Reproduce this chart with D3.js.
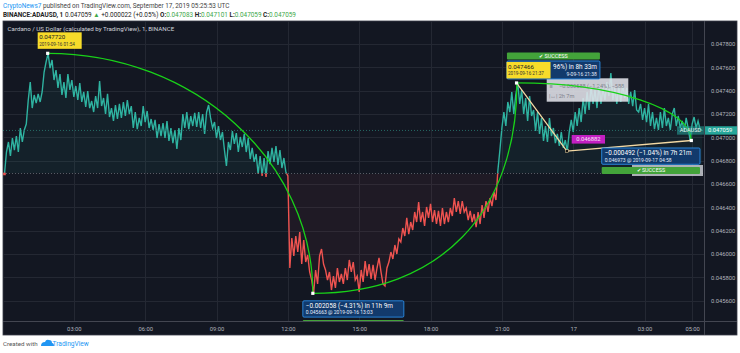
<!DOCTYPE html>
<html><head><meta charset="utf-8">
<script src="https://cdn.jsdelivr.net/npm/d3@7"></script>
<style>body{margin:0;background:#fff}svg{display:block}text{font-family:Roboto,"Liberation Sans",Arial,sans-serif}</style>
</head><body><svg id="c" width="740" height="353"></svg>
<script>
// ADAUSD 1-minute chart, sampled every 5 minutes (price x 1e6)
const startTimeUTC = Date.UTC(2019, 8, 16, 0, 5);
const stepMinutes = 5;
const priceMicro = [
46686,46874,46960,46840,46994,46891,47011,46874,47080,46960,
47063,47114,47320,47474,47251,47363,47294,47372,47303,47389,
47560,47646,47720,47594,47663,47491,47577,47423,47543,47363,
47474,47337,47543,47406,47491,47346,47440,47320,47466,47303,
47389,47260,47397,47251,47311,47217,47354,47251,47483,47268,
47337,47200,47372,47174,47251,47140,47277,47157,47286,47166,
47303,47183,47320,47200,47268,47080,47217,47071,47166,47097,
47268,47131,47226,47080,47157,47063,47149,46994,47114,47011,
47123,46994,47140,46969,47080,46951,47063,46900,47080,46977,
47200,47080,47217,47071,47183,47097,47209,47089,47217,47080,
47200,47029,47217,47277,47166,47080,47131,46994,47097,46977,
47046,46891,46754,46960,46891,47054,46943,47037,46874,47003,
46917,47029,46874,46994,46814,46909,46789,46857,46686,46840,
46669,46823,46660,46883,46771,46909,46789,46926,46763,46891,
46737,46823,46703,46669,45880,46137,45983,46154,46017,46189,
45914,46120,45931,45991,45846,45777,45663,45863,45743,45983,
46043,45914,45863,45777,45846,45691,45811,45709,45880,45760,
45829,45743,45880,45777,45949,45846,45931,45777,45811,45674,
45863,45760,45940,45811,45914,45786,45906,45777,45880,45966,
45846,45743,45726,45880,45931,46017,45957,46077,46000,46129,
46103,46223,46154,46309,46171,46274,46206,46360,46274,46446,
46274,46360,46240,46403,46309,46429,46274,46377,46257,46369,
46240,46394,46257,46360,46274,46394,46326,46480,46360,46454,
46343,46454,46360,46394,46291,46369,46274,46343,46231,46360,
46257,46420,46309,46454,46360,46480,46411,46531,46463,46720,
46891,47080,47217,47097,47303,47217,47389,47200,47363,47466,
47286,47406,47200,47337,47140,47354,47183,47234,47054,47217,
47029,47166,46969,47097,46960,47166,47011,47080,46951,47029,
46926,47046,46909,46977,46882,47046,47149,47046,47217,47097,
47251,47131,47337,47200,47389,47234,47440,47286,47406,47251,
47457,47286,47423,47320,47474,47354,47551,47320,47423,47286,
47440,47303,47457,47337,47423,47286,47389,47268,47406,47234,
47217,47286,47149,47251,47131,47286,47097,47217,47071,47166,
47063,47217,47080,47251,47097,47166,47063,47200,47251,47097,
47183,47080,47140,47046,47166,47080,46973,47114,47174,47080,47140,47071,47059
];
const baselinePrice = 0.04669;
const lastPrice = 0.047059;
const yTickValues = [0.0456,0.0458,0.046,0.0462,0.0464,0.0466,0.0468,0.047,0.0472,0.0474,0.0476,0.0478];
const xTickTimes = ["2019-09-16T03:00Z","2019-09-16T06:00Z","2019-09-16T09:00Z","2019-09-16T12:00Z","2019-09-16T15:00Z","2019-09-16T18:00Z","2019-09-16T21:00Z","2019-09-17T00:00Z","2019-09-17T03:00Z","2019-09-17T05:00Z"];
const xTickLabels = ["03:00","06:00","09:00","12:00","15:00","18:00","21:00","17","03:00","05:00"];
// forecast drawings
const fcSrcTimes = ["2019-09-16T01:54Z","2019-09-16T13:03Z","2019-09-16T21:37Z"];
const fcSrcPrices = [0.047720,0.045663,0.047466];
const fcTgtTimes = ["2019-09-16T13:03Z","2019-09-16T21:38Z","2019-09-17T04:58Z"];
const fcTgtPrices = [0.045663,0.047466,0.046973];
// visible parts of the target labels (the 2nd one is partly covered by the 3rd source label)
const fcMain = ["\u22120.002058 (\u22124.31%) in 11h 9m","96%) in 8h 33m","\u22120.000492 (\u22121.04%) in 7h 21m"];
const fcSub = ["0.045663 @ 2019-09-16  13:03","9-09-16  21:38","0.046973 @ 2019-09-17  04:58"];
const fcSrcLabel = ["2019-09-16 01:54","","2019-09-16 21:37"];
// path drawing
const pathTimes = ["2019-09-16T21:37Z","2019-09-16T23:44Z","2019-09-17T04:58Z"];
const pathPrices = [0.047466,0.046882,0.046973];

const svg = d3.select("#c");
const P = {l:3, r:704, t:21, b:321};
const x = d3.scaleUtc().domain([Date.UTC(2019,8,16,0,0), Date.UTC(2019,8,17,6,0)]).range([2.5, 2.5+30*23.78]);
const y = d3.scaleLinear().domain([0.0478,0.0456]).range([44, 44+11*23.333]);
const data = priceMicro.map((v,i)=>({t:new Date(startTimeUTC + i*stepMinutes*60000), p:v/1e6}));

svg.append("rect").attr("width",740).attr("height",353).attr("fill","#fff");
// header
const h1 = svg.append("text").attr("x",3).attr("y",8.3).attr("font-size",6.4).attr("fill","#444");
h1.append("tspan").attr("fill","#2196f3").text("CryptoNews7");
h1.append("tspan").text(" published on TradingView.com, September 17, 2019 05:25:53 UTC");
const h2 = svg.append("text").attr("x",3).attr("y",16.8).attr("font-size",6.4).attr("fill","#222");
const g = "#3ea84a";
[["BINANCE:ADAUSD, 1 ","#222","bold"],["0.047059 ","#222"],["\u25B2 ",g],["+0.000022 (+0.05%) ","#222"],["O:","#222","bold"],["0.047083 ",g],["H:","#222","bold"],["0.047101 ",g],["L:","#222","bold"],["0.047059 ",g],["C:","#222","bold"],["0.047059",g]]
 .forEach(s=>h2.append("tspan").attr("fill",s[1]).attr("font-weight",s[2]||"normal").text(s[0]));

// panel
svg.append("rect").attr("x",3).attr("y",21).attr("width",734).attr("height",314).attr("fill","#131722").attr("stroke","#3a3e49").attr("stroke-width",0.8);
svg.append("defs").html(`<clipPath id="plot"><rect x="${P.l}" y="${P.t}" width="${P.r-P.l}" height="${P.b-P.t}"/></clipPath>
<clipPath id="above"><rect x="${P.l}" y="${P.t}" width="${P.r-P.l}" height="${y(baselinePrice)-P.t}"/></clipPath>
<clipPath id="below"><rect x="${P.l}" y="${y(baselinePrice)}" width="${P.r-P.l}" height="${P.b-y(baselinePrice)}"/></clipPath>`);

const grid = svg.append("g").attr("stroke","#242833").attr("stroke-width",1);
yTickValues.forEach(v=>grid.append("line").attr("x1",P.l).attr("x2",P.r).attr("y1",Math.round(y(v))+0.5).attr("y2",Math.round(y(v))+0.5));
xTickTimes.forEach(t=>grid.append("line").attr("y1",P.t).attr("y2",P.b).attr("x1",Math.round(x(new Date(t)))+0.5).attr("x2",Math.round(x(new Date(t)))+0.5));

// baseline chart
const area = d3.area().x(d=>x(d.t)).y0(y(baselinePrice)).y1(d=>y(d.p));
const line = d3.line().x(d=>x(d.t)).y(d=>y(d.p));
const chart = svg.append("g").attr("clip-path","url(#plot)");
chart.append("g").attr("clip-path","url(#above)").append("path").attr("d",area(data)).attr("fill","rgba(38,166,154,0.07)");
chart.append("g").attr("clip-path","url(#below)").append("path").attr("d",area(data)).attr("fill","rgba(239,83,80,0.06)");
chart.append("line").attr("x1",P.l).attr("x2",P.r).attr("y1",y(baselinePrice)).attr("y2",y(baselinePrice)).attr("stroke","#6b6e78").attr("stroke-width",0.8).attr("stroke-dasharray","1,2");
chart.append("g").attr("clip-path","url(#above)").append("path").attr("d",line(data)).attr("fill","none").attr("stroke","#2fb3a1").attr("stroke-width",1.4);
chart.append("g").attr("clip-path","url(#below)").append("path").attr("d",line(data)).attr("fill","none").attr("stroke","#ef5350").attr("stroke-width",1.4);
chart.append("line").attr("x1",P.l).attr("x2",P.r).attr("y1",y(lastPrice)).attr("y2",y(lastPrice)).attr("stroke","#2a7d75").attr("stroke-width",0.8).attr("stroke-dasharray","1,2");
chart.append("rect").attr("x",x(data[0].t)-1.3).attr("y",y(data[0].p)-1.3).attr("width",2.6).attr("height",2.6).attr("fill","#ef5350");

// drawings
const dr = svg.append("g").attr("clip-path","url(#plot)");
const pt = (t,p)=>[x(new Date(t)), y(p)];
const fks = [0.552,0.62,0.552];
// path (pale)
const pp = pathTimes.map((t,i)=>pt(t,pathPrices[i]));
dr.append("path").attr("d",d3.line()(pp)).attr("fill","none").attr("stroke","#f3d9a4").attr("stroke-width",1.3);
// gray measure label
dr.append("rect").attr("x",546.7).attr("y",78.3).attr("width",81.6).attr("height",23.4).attr("fill","rgba(226,228,234,0.88)");
dr.append("text").attr("x",559).attr("y",87.5).attr("font-size",5.6).attr("fill","#7d808a").text("\u22120.000588 (\u22121.24%), \u2212588");
dr.append("text").attr("x",549.5).attr("y",88).attr("font-size",5.6).attr("fill","#7d808a").text("\u2261");
dr.append("text").attr("x",549).attr("y",97.5).attr("font-size",5.6).attr("fill","#7d808a").text("|\u2194|  2h 7m");
dr.append("rect").attr("x",632).attr("y",165).attr("width",71).attr("height",11).attr("fill","rgba(200,202,208,0.85)");
// magenta label
dr.append("rect").attr("x",571.7).attr("y",135).attr("width",33.3).attr("height",8.6).attr("fill","#c21fc2");
dr.append("text").attr("x",588.3).attr("y",141.4).attr("text-anchor","middle").attr("font-size",5.8).attr("fill","#f6e7f6").text("0.046882");

fcSrcTimes.forEach((st,i)=>{
  const [x0,y0] = pt(st,fcSrcPrices[i]);
  const [x1,y1] = pt(fcTgtTimes[i],fcTgtPrices[i]);
  const k = fks[i];
  const p = d3.path(); p.moveTo(x0,y0); p.bezierCurveTo(x0+k*(x1-x0),y0,x1,y1-k*(y1-y0),x1,y1);
  dr.append("path").attr("d",p.toString()).attr("fill","none").attr("stroke","#19d219").attr("stroke-width",1.3);
});
// target labels & success bars
fcSrcTimes.forEach((st,i)=>{
  const [x1,y1] = pt(fcTgtTimes[i],fcTgtPrices[i]);
  const down = fcTgtPrices[i] < fcSrcPrices[i];
  const w = i===0?101:(i===1?93:98.3), h = down?16.3:18;
  let bx = Math.min(x1-10, P.r-4-w);
  const by = down ? y1+7.5 : y1-22;
  const sy = down ? by+h+2.8 : y1-30.5;
  const sb = dr.append("g");
  sb.append("rect").attr("x",bx).attr("y",sy).attr("width",w).attr("height",7).attr("rx",1).attr("fill","#43a33a");
  sb.append("text").attr("x",bx+w/2).attr("y",sy+5.4).attr("text-anchor","middle").attr("font-size",5.4).attr("fill","#fff").text("\u2714 SUCCESS");
  const lb = dr.append("g");
  lb.append("rect").attr("x",bx).attr("y",by).attr("width",w).attr("height",h).attr("rx",1.2).attr("fill","#123a6c").attr("stroke","#2a8de8").attr("stroke-width",0.9);
  if (down) {
    lb.append("text").attr("x",bx+3).attr("y",by+7.3).attr("font-size",6.4).attr("fill","#fff").text(fcMain[i]);
    lb.append("text").attr("x",bx+3).attr("y",by+13.6).attr("font-size",5).attr("fill","#e6eefc").text(fcSub[i]);
  } else {
    lb.append("text").attr("x",bx+w-3).attr("y",by+8).attr("text-anchor","end").attr("font-size",6.4).attr("fill","#fff").text(fcMain[i]);
    lb.append("text").attr("x",bx+w-3).attr("y",by+14.6).attr("text-anchor","end").attr("font-size",5).attr("fill","#e6eefc").text(fcSub[i]);
  }
});
// source labels
fcSrcTimes.forEach((st,i)=>{
  if(!fcSrcLabel[i]) return;
  const [x0,y0] = pt(st,fcSrcPrices[i]);
  const g2 = dr.append("g");
  g2.append("rect").attr("x",x0-10).attr("y",y0-21).attr("width",44).attr("height",16.5).attr("fill","#f7dc2a");
  g2.append("text").attr("x",x0-8.5).attr("y",y0-14.2).attr("font-size",6.2).attr("fill","#222").text(d3.format(".6f")(fcSrcPrices[i]));
  g2.append("text").attr("x",x0-8.5).attr("y",y0-7.8).attr("font-size",4.6).attr("fill","#333").text(fcSrcLabel[i]);
});
// anchor markers
const marks = [pt(fcSrcTimes[0],fcSrcPrices[0]),pt(fcTgtTimes[0],fcTgtPrices[0]),pt(fcSrcTimes[2],fcSrcPrices[2]),pt(fcTgtTimes[2],fcTgtPrices[2])];
marks.forEach(m=>dr.append("rect").attr("x",m[0]-1.6).attr("y",m[1]-1.6).attr("width",3.2).attr("height",3.2).attr("fill","#fff"));
dr.append("rect").attr("x",pp[1][0]-1.4).attr("y",pp[1][1]-1.4).attr("width",2.8).attr("height",2.8).attr("fill","#111").attr("stroke","#f3d9a4").attr("stroke-width",0.5);

// title
svg.append("text").attr("x",7.5).attr("y",31).attr("font-size",6.2).attr("fill","#d1d4dc").text("Cardano / US Dollar (calculated by TradingView), 1, BINANCE");

// axes
svg.append("line").attr("x1",P.r+0.5).attr("x2",P.r+0.5).attr("y1",P.t).attr("y2",335).attr("stroke","#434651");
svg.append("line").attr("x1",P.l).attr("x2",737).attr("y1",P.b+0.5).attr("y2",P.b+0.5).attr("stroke","#434651");
const yAxis = d3.axisRight(y).tickValues(yTickValues).tickFormat(d3.format(".6f")).tickSize(0);
const ya = svg.append("g").attr("transform",`translate(${P.r+4},0)`).call(yAxis);
ya.select(".domain").remove();
ya.selectAll("text").attr("font-size",5.8).attr("fill","#b2b5be").attr("font-family","Roboto,'Liberation Sans',Arial,sans-serif");
const xAxis = d3.axisBottom(x).tickValues(xTickTimes.map(t=>new Date(t))).tickFormat((d,i)=>xTickLabels[i]).tickSize(0);
const xa = svg.append("g").attr("transform",`translate(0,${P.b+3})`).call(xAxis);
xa.select(".domain").remove();
xa.selectAll("text").attr("font-size",5.8).attr("fill","#b2b5be").attr("font-family","Roboto,'Liberation Sans',Arial,sans-serif");

// last price labels
const ly = y(lastPrice);
svg.append("rect").attr("x",677).attr("y",ly-4.2).attr("width",27).attr("height",8.4).attr("fill","rgba(38,166,154,0.55)");
svg.append("text").attr("x",690.5).attr("y",ly+2).attr("text-anchor","middle").attr("font-size",5.6).attr("fill","#e9f6f4").text("ADAUSD");
svg.append("rect").attr("x",P.r+1).attr("y",ly-4.2).attr("width",32).attr("height",8.4).attr("fill","#26a69a");
svg.append("text").attr("x",P.r+4).attr("y",ly+2).attr("font-size",5.8).attr("fill","#fff").text(d3.format(".6f")(lastPrice));

// footer
svg.append("text").attr("x",3).attr("y",346).attr("font-size",6.2).attr("fill","#555").text("Created with");
svg.append("path").attr("d","M41,346 q0,-4 4,-4 q1,-3 4,-2 q3,0 3,3 q2,0 2,3 z").attr("fill","#2196f3");
svg.append("text").attr("x",52.5).attr("y",346).attr("font-size",6.6).attr("fill","#2196f3").text("TradingView");
</script></body></html>
